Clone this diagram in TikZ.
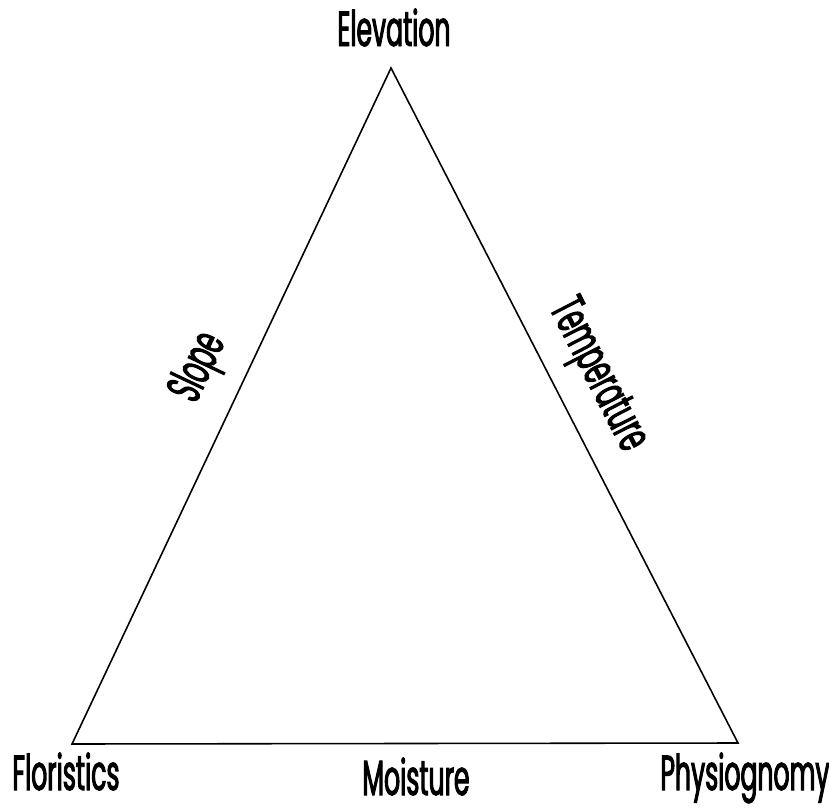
\documentclass[tikz,border=0pt]{standalone}
\usepackage{fontspec}
\setmainfont[FakeStretch=0.51,FakeBold=2]{Poppins}
\usetikzlibrary{positioning}

\begin{document}
\begin{tikzpicture}[
    x=0.02cm, y=-0.02cm,
    vertex/.style={font=\fontsize{28}{32}\selectfont, inner sep=0pt, anchor=base},
    edgelabel/.style={font=\fontsize{28}{32}\selectfont, inner sep=0pt},
    side/.style={line width=0.9pt}
]
\useasboundingbox (0,0) rectangle (829,812);
% corners of the triangle
\coordinate (top) at (391,68);
\coordinate (left) at (72,744);
\coordinate (right) at (738,743);
\draw[side] (top) -- (left) -- (right) -- cycle;
% corner labels
\node[vertex] (elev) at (394,46) {Elevation};
\node[vertex] (flor) at (66,790) {Floristics};
\node[vertex] (phys) at (745,790) {Physiognomy};
% edge labels
\node[vertex] (moist) at (416,795) {Moisture};
\node[edgelabel, rotate=64.7] (slope) at (200,368) {Slope};
\node[edgelabel, rotate=-62.8] (temp) at (596,376) {Temperature};
\end{tikzpicture}
\end{document}
